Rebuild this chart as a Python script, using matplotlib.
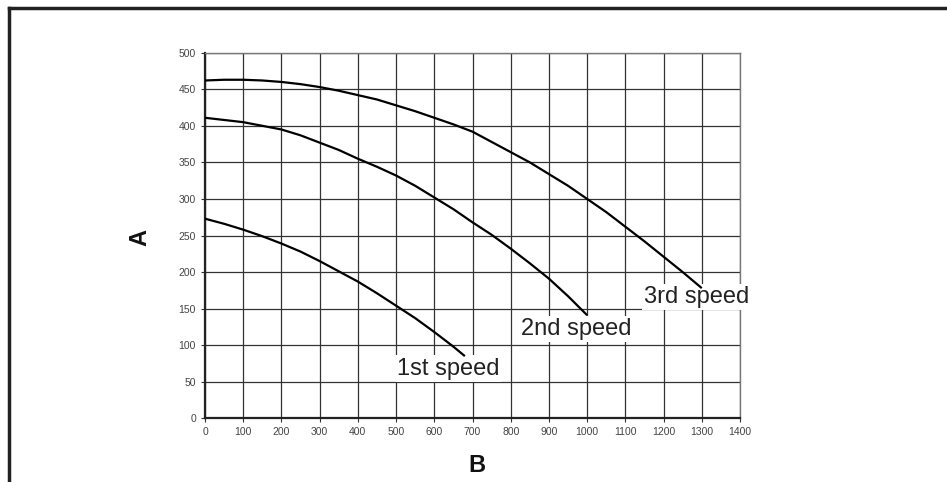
import matplotlib
matplotlib.use("Agg")
import matplotlib.pyplot as plt
from matplotlib.lines import Line2D

plt.rcParams['font.family'] = ['Liberation Sans', 'DejaVu Sans']

# ---- data ----
speed1_x = [0, 50, 100, 150, 200, 250, 300, 350, 400, 450, 500, 550, 600, 650, 680]
speed1_y = [273, 266, 258, 249, 239, 228, 215, 201, 187, 171, 154, 137, 118, 98, 85]

speed2_x = [0, 50, 100, 150, 200, 250, 300, 350, 400, 450, 500, 550, 600, 650, 700,
            750, 800, 850, 900, 950, 1000]
speed2_y = [411, 408, 405, 400, 395, 387, 377, 367, 355, 344, 332, 318, 302, 286, 268,
            251, 232, 212, 191, 167, 141]

speed3_x = [0, 50, 100, 150, 200, 250, 300, 350, 400, 450, 500, 550, 600, 650, 700,
            750, 800, 850, 900, 950, 1000, 1050, 1100, 1150, 1200, 1250, 1300]
speed3_y = [462, 463, 463, 462, 460, 457, 453, 448, 442, 436, 428, 420, 411, 402, 392,
            378, 364, 350, 334, 318, 300, 282, 262, 242, 221, 200, 178]

x_ticks = list(range(0, 1401, 100))
y_ticks = list(range(0, 501, 50))

labels = ["1st speed", "2nd speed", "3rd speed"]
label_pos = [(502, 68), (828, 122), (1150, 166)]

# ---- figure ----
fig = plt.figure(figsize=(9.47, 4.82), dpi=100)
ax = fig.add_axes([205/947, 1 - 418.3/482, 535/947, 365.6/482])

ax.set_xlim(0, 1400)
ax.set_ylim(0, 500)
ax.set_xticks(x_ticks)
ax.set_yticks(y_ticks)
ax.grid(True, color='#333333', linewidth=0.9)
ax.set_axisbelow(True)

for xs, ys in [(speed1_x, speed1_y), (speed2_x, speed2_y), (speed3_x, speed3_y)]:
    ax.plot(xs, ys, color='black', linewidth=1.6, solid_capstyle='butt', zorder=5)

for txt, (tx, ty) in zip(labels, label_pos):
    ax.text(tx, ty, txt, fontsize=17, color='#222222', ha='left', va='center',
            bbox=dict(facecolor='white', edgecolor='none', pad=1.5), zorder=4,
            clip_on=False)

ax.tick_params(axis='both', labelsize=7.5, labelcolor='#444444', color='#333333',
               length=3, width=0.8)
for side in ['top', 'right']:
    ax.spines[side].set_color('#777777')
    ax.spines[side].set_linewidth(1.0)
for side in ['left', 'bottom']:
    ax.spines[side].set_color('#222222')
    ax.spines[side].set_linewidth(1.6)

fig.text(140/947, 1 - 237/482, "A", fontsize=17, fontweight='bold', rotation=90,
         ha='center', va='center', color='#111111')
fig.text(477/947, 1 - 465/482, "B", fontsize=17, fontweight='bold',
         ha='center', va='center', color='#111111')

# outer frame (top and left borders)
fig.add_artist(Line2D([9/947, 9/947], [0, 1 - 8/482], color='#222222', linewidth=2.5,
                      transform=fig.transFigure, solid_capstyle='projecting'))
fig.add_artist(Line2D([9/947, 1], [1 - 8/482, 1 - 8/482], color='#222222', linewidth=2.5,
                      transform=fig.transFigure, solid_capstyle='projecting'))

fig.savefig("out.png", dpi=100, facecolor='white')
